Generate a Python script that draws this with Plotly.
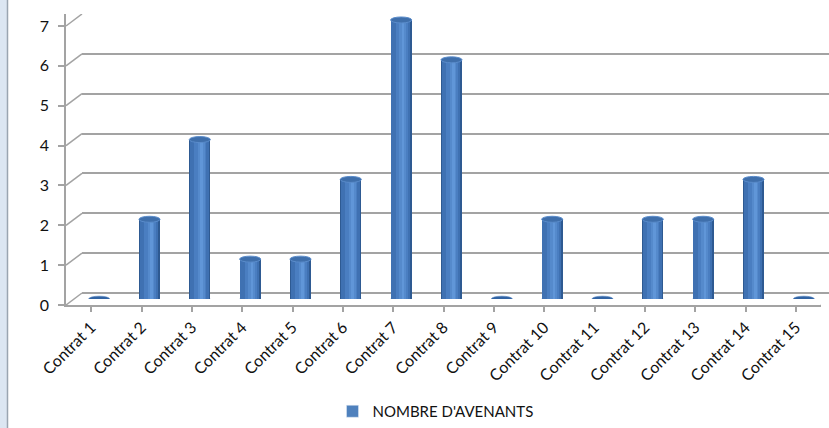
import plotly.graph_objects as go

categories = [f"Contrat {i}" for i in range(1, 16)]
values = [0, 2, 4, 1, 1, 3, 7, 6, 0, 2, 0, 2, 2, 3, 0]
series_name = "NOMBRE D'AVENANTS"
y_ticks = [0, 1, 2, 3, 4, 5, 6, 7]

W, H = 829, 428
L, R, T, B = 66, 0, 14, 123
PW, PH = W - L - R, H - T - B
PX_PER_UNIT = 39.86
DX, DY = 16, 12          # depth offset of the back wall (pixels)
MX, MY = 8, 6            # depth offset of the bars (mid depth)
FRONT_W = 755            # front floor width in px

GRID = "#A3A3A3"
FONT = dict(family="Lato, Carlito, Arial", size=16, color="#111111")

fig = go.Figure()

# back wall axes (gridlines only)
fig.add_trace(go.Scatter(x=[None], y=[None], xaxis="x2", yaxis="y2", showlegend=False))

idx = list(range(len(categories)))
bar_w = 0.42
layers = [
    (bar_w, 0.0, "#2E5A92"),
    (0.37, -0.012, "#3F71B2"),
    (0.24, 0.01, "#4A7EC1"),
    (0.13, 0.03, "#558ACC"),
    (0.05, 0.035, "#6096D8"),
]
for w, sh, col in layers:
    fig.add_trace(go.Bar(
        x=idx, y=values, xaxis="x3", yaxis="y3",
        width=w, offset=-w / 2 + sh,
        marker=dict(color=col, line=dict(width=0)),
        name=series_name, showlegend=False, hoverinfo="skip",
    ))
fig.add_trace(go.Bar(x=[None], y=[None], xaxis="x3", yaxis="y3",
                     marker=dict(color="#4F81BD"), name=series_name, showlegend=True))
# front axes
fig.add_trace(go.Scatter(x=[None], y=[None], xaxis="x", yaxis="y", showlegend=False))

shapes = []
# left strip of the original window
shapes.append(dict(type="rect", xref="paper", yref="paper",
                   x0=-L / PW, x1=(7 - L) / PW, y0=-B / PH, y1=1 + T / PH,
                   fillcolor="#DCE6F2", line=dict(width=0), layer="below"))
shapes.append(dict(type="line", xref="paper", yref="paper",
                   x0=(7.5 - L) / PW, x1=(7.5 - L) / PW, y0=-B / PH, y1=1 + T / PH,
                   line=dict(color="#9AA5B1", width=1.5), layer="below"))
# diagonal connectors between the front axis and the back wall
for k in y_ticks:
    shapes.append(dict(type="line", xref="paper", xsizemode="pixel", xanchor=0,
                       x0=0, x1=DX, yref="y", ysizemode="pixel", yanchor=k,
                       y0=0, y1=DY, line=dict(color=GRID, width=1.5), layer="below"))
# right floor edge
shapes.append(dict(type="line", xref="x", xsizemode="pixel", xanchor=len(categories) - 0.5,
                   x0=0, x1=DX, yref="y", ysizemode="pixel", yanchor=0,
                   y0=0, y1=DY, line=dict(color=GRID, width=1.5), layer="below"))
# cylinder bottoms and tops
for i, v in zip(idx, values):
    if v > 0:
        shapes.append(dict(type="circle", xref="x3", x0=i - bar_w / 2, x1=i + bar_w / 2,
                           yref="y3", ysizemode="pixel", yanchor=0, y0=-3, y1=3,
                           fillcolor="#3D6EAD", line=dict(width=0), layer="below"))
        shapes.append(dict(type="circle", xref="x3", x0=i - bar_w / 2, x1=i + bar_w / 2,
                           yref="y3", ysizemode="pixel", yanchor=v, y0=-3, y1=3,
                           fillcolor="#3F6FAB", line=dict(color="#5A8CCB", width=1), layer="above"))
    else:
        shapes.append(dict(type="circle", xref="x3", x0=i - bar_w / 2, x1=i + bar_w / 2,
                           yref="y3", ysizemode="pixel", yanchor=0, y0=-2.8, y1=2.8,
                           fillcolor="#3163A3", line=dict(color="#4A7CBC", width=0.6), layer="above"))

fig.update_layout(
    width=W, height=H,
    margin=dict(l=L, r=R, t=T, b=B),
    paper_bgcolor="white", plot_bgcolor="rgba(0,0,0,0)",
    font=FONT,
    barmode="overlay",
    bargap=0,
    shapes=shapes,
    showlegend=True,
    legend=dict(orientation="h", x=0.5 - 12 / PW, xanchor="center", y=(305 - 412) / PH, yanchor="middle",
                font=dict(family="Lato, Carlito, Arial", size=15, color="#111111"),
                bgcolor="rgba(0,0,0,0)"),
    xaxis=dict(domain=[0, FRONT_W / PW], range=[-0.5, len(categories) - 0.5],
               tickmode="array", tickvals=idx, ticktext=categories,
               tickangle=-45, tickson="boundaries", ticks="outside", ticklen=5,
               tickcolor=GRID, tickwidth=1.5,
               showline=True, linecolor=GRID, linewidth=1.5,
               showgrid=False, zeroline=False, anchor="y", fixedrange=True),
    yaxis=dict(domain=[0, 1], range=[0, PH / PX_PER_UNIT],
               tickmode="array", tickvals=y_ticks, ticks="outside", ticklen=6,
               tickcolor=GRID, tickwidth=1.5, ticklabelstandoff=6,
               showline=True, linecolor=GRID, linewidth=1.5,
               showgrid=False, zeroline=False, anchor="x", fixedrange=True),
    xaxis2=dict(domain=[DX / PW, 1], range=[0, 1], visible=False, anchor="y2", fixedrange=True),
    yaxis2=dict(domain=[DY / PH, 1], range=[0, (PH - DY) / PX_PER_UNIT],
                tickmode="array", tickvals=y_ticks, showticklabels=False,
                showgrid=True, gridcolor=GRID, gridwidth=1.5,
                zeroline=True, zerolinecolor=GRID, zerolinewidth=1.5,
                showline=False, ticks="", anchor="x2", fixedrange=True),
    xaxis3=dict(domain=[MX / PW, min(1, (FRONT_W + MX) / PW)], range=[-0.5, len(categories) - 0.5],
                visible=False, anchor="y3", fixedrange=True),
    yaxis3=dict(domain=[MY / PH, 1], range=[0, (PH - MY) / PX_PER_UNIT],
                visible=False, anchor="x3", fixedrange=True),
)

fig.write_html("out.html")
